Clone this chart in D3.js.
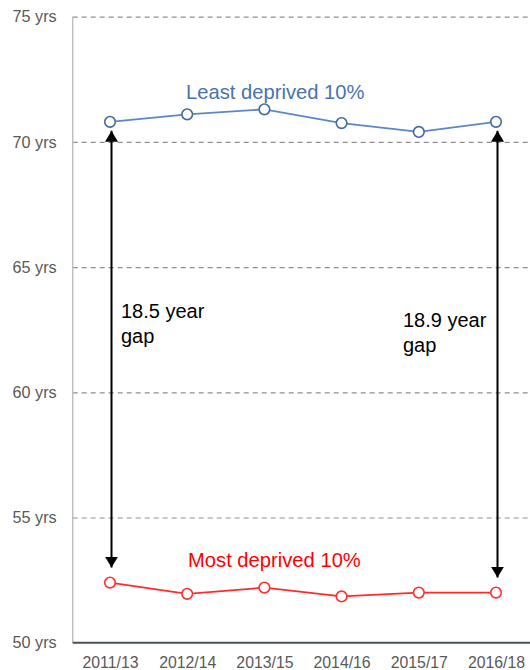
<!DOCTYPE html>
<html>
<head>
<meta charset="utf-8">
<script src="https://cdn.jsdelivr.net/npm/d3@7"></script>
<style>
  html, body { margin: 0; padding: 0; background: #fff; }
  svg { display: block; }
  text { font-family: "Liberation Sans", Arial, sans-serif; }
</style>
</head>
<body>
<svg id="chart" width="530" height="670"></svg>
<script>
// ---- data ----
const categories = ["2011/13", "2012/14", "2013/15", "2014/16", "2015/17", "2016/18"];
const leastDeprived = [70.8, 71.1, 71.3, 70.75, 70.4, 70.8];
const mostDeprived = [52.4, 51.95, 52.2, 51.85, 52.0, 52.0];
const yTicks = [50, 55, 60, 65, 70, 75];
const seriesLabels = ["Least deprived 10%", "Most deprived 10%"];
const gapLabels = [["18.5 year", "gap"], ["18.9 year", "gap"]];
const gapCategories = ["2011/13", "2016/18"];

// ---- layout ----
const svg = d3.select("#chart");
const axisX = 72.7, rightX = 530, topY = 16.7, bottomY = 642.7;

const x = d3.scalePoint().domain(categories).range([110, 496]);
const y = d3.scaleLinear().domain([50, 75]).range([bottomY, topY]);

// gridlines + y labels
const yAxis = d3.axisLeft(y).tickValues(yTicks)
  .tickSize(-(rightX - axisX)).tickPadding(16)
  .tickFormat(d => d + " yrs");
const gy = svg.append("g").attr("transform", `translate(${axisX},0)`).call(yAxis);
gy.select(".domain").remove();
gy.selectAll(".tick line")
  .attr("stroke", "#8f8f8f").attr("stroke-width", 1.2)
  .attr("stroke-dasharray", "5,4")
  .filter(d => d === 50).remove();
gy.selectAll(".tick text")
  .attr("fill", "#595959").attr("font-size", 16.2)
  .attr("x", -16);

// y axis line
svg.append("line").attr("x1", axisX).attr("x2", axisX)
  .attr("y1", topY).attr("y2", bottomY)
  .attr("stroke", "#bfbfbf").attr("stroke-width", 1.5);

// x axis
const xAxis = d3.axisBottom(x).tickSize(0).tickPadding(14);
const gx = svg.append("g").attr("transform", `translate(0,${bottomY})`).call(xAxis);
gx.select(".domain").remove();
gx.selectAll(".tick text").attr("fill", "#595959").attr("font-size", 15.8);
svg.append("line").attr("x1", axisX).attr("x2", rightX)
  .attr("y1", bottomY).attr("y2", bottomY)
  .attr("stroke", "#46505e").attr("stroke-width", 2);

// arrows
const defs = svg.append("defs");
defs.append("marker").attr("id", "ah")
  .attr("viewBox", "0 0 10 12").attr("refX", 10).attr("refY", 6)
  .attr("markerWidth", 5.5).attr("markerHeight", 6.6)
  .attr("markerUnits", "strokeWidth").attr("orient", "auto-start-reverse")
  .append("path").attr("d", "M0,0 L10,6 L0,12 Z").attr("fill", "#000");

gapCategories.forEach((c, i) => {
  const idx = categories.indexOf(c);
  const ax = x(c) + 1.5;
  svg.append("line")
    .attr("x1", ax).attr("x2", ax)
    .attr("y1", y(leastDeprived[idx]) + 9)
    .attr("y2", y(mostDeprived[idx]) - 15)
    .attr("stroke", "#000").attr("stroke-width", 2)
    .attr("marker-start", "url(#ah)").attr("marker-end", "url(#ah)");
});

// gap labels
const gapPos = [[121, 318], [403, 327]];
gapLabels.forEach((lines, i) => {
  const t = svg.append("text").attr("x", gapPos[i][0]).attr("y", gapPos[i][1])
    .attr("font-size", 20).attr("fill", "#000");
  lines.forEach((ln, j) => {
    t.append("tspan").attr("x", gapPos[i][0]).attr("dy", j === 0 ? 0 : 25).text(ln);
  });
});

// lines
const line = d3.line().x((d, i) => x(categories[i])).y(d => y(d));
const series = [
  { values: leastDeprived, line: "#5b87c7", marker: "#44699f", text: "#4a72b0", label: seriesLabels[0], lx: 186, ly: 99 },
  { values: mostDeprived, line: "#ff2b2b", marker: "#ff3030", text: "#ff0000", label: seriesLabels[1], lx: 188, ly: 567 }
];
series.forEach(s => {
  svg.append("path").datum(s.values).attr("d", line)
    .attr("fill", "none").attr("stroke", s.line).attr("stroke-width", 1.8);
  svg.selectAll(null).data(s.values).enter().append("circle")
    .attr("cx", (d, i) => x(categories[i])).attr("cy", d => y(d))
    .attr("r", 5.3).attr("fill", "#fff")
    .attr("stroke", s.marker).attr("stroke-width", 1.6);
  svg.append("text").attr("x", s.lx).attr("y", s.ly)
    .attr("font-size", 20.2).attr("fill", s.text).text(s.label);
});
</script>
</body>
</html>
